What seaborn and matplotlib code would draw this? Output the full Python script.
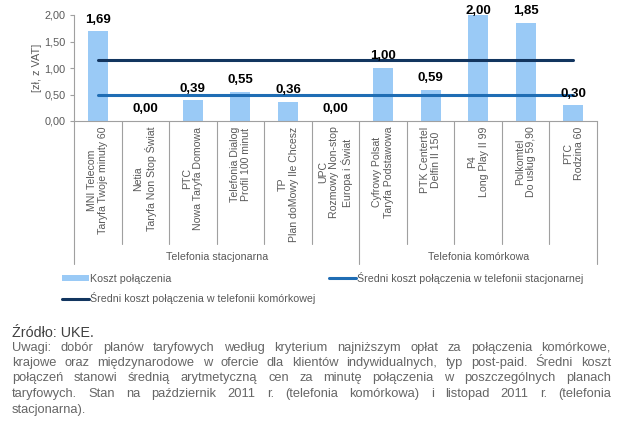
import matplotlib
matplotlib.use("Agg")
import matplotlib.pyplot as plt
import matplotlib.transforms as mtransforms
from matplotlib.lines import Line2D
from matplotlib.patches import Patch
import seaborn as sns
import pandas as pd

# ---- data ----
categories = [
    "MNI Telecom\nTaryfa Twoje minuty 60",
    "Netia\nTaryfa Non Stop Świat",
    "PTC\nNowa Taryfa Domowa",
    "Telefonia Dialog\nProfil 100 minut",
    "TP\nPlan doMowy Ile Chcesz",
    "UPC\nRozmowy Non-stop\nEuropa i Świat",
    "Cyfrowy Polsat\nTaryfa Podstawowa",
    "PTK Centertel\nDelfin II 150",
    "P4\nLong Play II 99",
    "Polkomtel\nDo usług 59,90",
    "PTC\nRodzina 60",
]
values = [1.69, 0.00, 0.39, 0.55, 0.36, 0.00, 1.00, 0.59, 2.00, 1.85, 0.30]
groups = ["Telefonia stacjonarna"] * 6 + ["Telefonia komórkowa"] * 5
group_names = ["Telefonia stacjonarna", "Telefonia komórkowa"]
avg_fixed = 0.50
avg_mobile = 1.15
yticks = [0.0, 0.5, 1.0, 1.5, 2.0]
legend_labels = ["Koszt połączenia",
                 "Średni koszt połączenia w telefonii stacjonarnej",
                 "Średni koszt połączenia w telefonii komórkowej"]
source_text = "Źródło: UKE."
note_lines = [
    "Uwagi: dobór planów taryfowych według kryterium najniższym opłat za połączenia komórkowe,",
    "krajowe oraz międzynarodowe w ofercie dla klientów indywidualnych, typ post-paid. Średni koszt",
    "połączeń stanowi średnią arytmetyczną cen za minutę połączenia w poszczególnych planach",
    "taryfowych. Stan na październik 2011 r. (telefonia komórkowa) i  listopad 2011 r. (telefonia",
    "stacjonarna).",
]

BAR = "#9acaf6"
LINE_FIX = "#1f6db4"
LINE_MOB = "#12355f"
GRAY = "#595959"

sns.set_theme(style="white")
plt.rcParams["font.family"] = ["Liberation Sans", "DejaVu Sans"]

fig = plt.figure(figsize=(6.4, 4.25), dpi=100)
W, H = 640, 425
ax = fig.add_axes([74 / W, 1 - 121 / H, (597 - 74) / W, (121 - 15) / H])

df = pd.DataFrame({"cat": categories, "val": values, "grp": groups})
sns.barplot(data=df, x="cat", y="val", color=BAR, width=0.42, saturation=1,
            ax=ax, edgecolor="none")

n = len(categories)
ax.set_xlim(-0.5, n - 0.5)
ax.set_ylim(0, 2.0)
ax.set_yticks(yticks)
ax.set_yticklabels([f"{t:.2f}".replace(".", ",") for t in yticks], fontsize=7.8, color=GRAY)
ax.tick_params(axis="y", length=3, width=0.8, color="#a0a0a0", pad=3, left=True)
ax.set_xticks(range(n))
ax.set_xticklabels(categories, rotation=90, fontsize=7.6, color=GRAY,
                   ha="center", va="top", multialignment="center", linespacing=1.15)
ax.tick_params(axis="x", length=0, pad=4)
ax.set_xlabel("")
ax.set_ylabel("[zł, z VAT]", fontsize=7.8, color=GRAY, labelpad=2)
for s in ["top", "right"]:
    ax.spines[s].set_visible(False)
for s in ["left", "bottom"]:
    ax.spines[s].set_color("#a0a0a0")
    ax.spines[s].set_linewidth(0.8)

# average lines across category centers
ax.plot([0, n - 1], [avg_mobile, avg_mobile], color=LINE_MOB, lw=2.2, zorder=3)
ax.plot([0, n - 1], [avg_fixed, avg_fixed], color=LINE_FIX, lw=2.2, zorder=3)

# value labels
for i, v in enumerate(values):
    y = min(v, 1.86)
    ax.annotate(f"{v:.2f}".replace(".", ","), (i, y), xytext=(0, 4),
                textcoords="offset points", ha="center", va="bottom",
                fontsize=9.5, fontweight="bold", color="black", annotation_clip=False)

# category separators
trans = mtransforms.blended_transform_factory(ax.transData, ax.transAxes)
boundaries_group = {0, 6, n}
for b in range(n + 1):
    depth = -1.35 if b in boundaries_group else -1.16
    ax.plot([b - 0.5, b - 0.5], [0, depth], transform=trans, color="#a0a0a0",
            lw=0.8, clip_on=False)
# group labels
start = 0
for g in group_names:
    cnt = groups.count(g)
    ax.text(start + (cnt - 1) / 2, -1.28, g,
            transform=trans, ha="center", va="center", fontsize=7.7, color=GRAY)
    start += cnt

# legend
handles = [Patch(facecolor=BAR, edgecolor="none"),
           Line2D([], [], color=LINE_MOB, lw=2.2),
           Line2D([], [], color=LINE_FIX, lw=2.2)]
labels = [legend_labels[0], legend_labels[2], legend_labels[1]]
fig.legend(handles, labels, ncol=2, loc="upper left", bbox_to_anchor=(62 / W, 1 - 272 / H),
           frameon=False, fontsize=7.7, labelcolor=GRAY, handlelength=2.5,
           handleheight=0.55, handletextpad=0.1, columnspacing=1.3, labelspacing=0.75,
           borderpad=0, borderaxespad=0)

# source and notes
fig.text(12 / W, 1 - 333 / H, source_text, fontsize=10.3, color="#404040", va="center")

fig.canvas.draw()
renderer = fig.canvas.get_renderer()
x0, x1 = 12, 611
ys = [348, 363, 378, 394, 410]
NOTE_FS = 9.3
for li, (line, yy) in enumerate(zip(note_lines, ys)):
    words = line.split()
    yf = 1 - yy / H
    if li == len(note_lines) - 1:
        fig.text(x0 / W, yf, line, fontsize=NOTE_FS, color="#666666", va="center")
        continue
    objs = [fig.text(0, yf, w, fontsize=NOTE_FS, color="#666666", va="center") for w in words]
    widths = [o.get_window_extent(renderer).width for o in objs]
    gap = (x1 - x0 - sum(widths)) / (len(words) - 1)
    x = x0
    for o, w in zip(objs, widths):
        o.set_x(x / W)
        x += w + gap

fig.savefig("out.png", dpi=100, facecolor="white")
